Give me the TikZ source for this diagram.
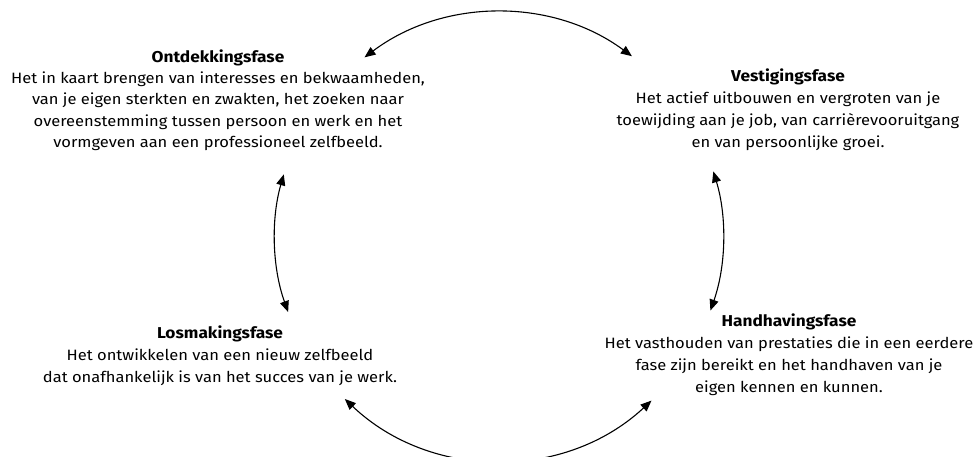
\documentclass[tikz,border=0pt]{standalone}
\usepackage{fontspec}
\setmainfont{Fira Sans}[FakeStretch=1.1]
\usetikzlibrary{arrows.meta}
\begin{document}
\begin{tikzpicture}[x=1pt,y=1pt,
  title/.style={anchor=base, inner sep=0pt, font=\fontsize{15.7}{20}\selectfont\bfseries},
  body/.style={align=center, anchor=north, inner sep=0pt, font=\fontsize{15}{22}\selectfont},
  cyc/.style={line width=1.1pt, {Triangle[length=11pt,width=9pt]}-{Triangle[length=11pt,width=9pt]}}]
\useasboundingbox (0,0) rectangle (975,456);
\coordinate (c) at (499,219.5);
% Ontdekkingsfase
\node[title] (ontT) at (218,393.5) {Ontdekkingsfase};
\node[body, font=\fontsize{15}{21.3}\selectfont] (ontB) at (218,384.5) {\rule{0pt}{12pt}Het in kaart brengen van interesses en bekwaamheden,\\van je eigen sterkten en zwakten, het zoeken naar\\overeenstemming tussen persoon en werk en het\\vormgeven aan een professioneel zelfbeeld.};
% Vestigingsfase
\node[title] (vesT) at (788,374.5) {Vestigingsfase};
\node[body] (vesB) at (788,364.5) {\rule{0pt}{12pt}Het actief uitbouwen en vergroten van je\\toewijding aan je job, van carrièrevooruitgang\\en van persoonlijke groei.};
% Handhavingsfase
\node[title] (hanT) at (789,130) {Handhavingsfase};
\node[body] (hanB) at (789,119.5) {\rule{0pt}{12pt}Het vasthouden van prestaties die in een eerdere\\fase zijn bereikt en het handhaven van je\\eigen kennen en kunnen.};
% Losmakingsfase
\node[title] (losT) at (220,117.3) {Losmakingsfase};
\node[body] (losB) at (220,107.3) {\rule{0pt}{12pt}Het ontwikkelen van een nieuw zelfbeeld\\dat onafhankelijk is van het succes van je werk.};
% cycle arrows
\coordinate (t1) at ([shift={(126.9:224)}]c);
\coordinate (l1) at ([shift={(163.9:224)}]c);
\coordinate (r1) at ([shift={(16.9:224)}]c);
\coordinate (b1) at ([shift={(226.5:224)}]c);
\draw[cyc] (t1) arc[start angle=126.9, end angle=53.6, radius=224];
\draw[cyc] (l1) arc[start angle=163.9, end angle=199.7, radius=224];
\draw[cyc] (r1) arc[start angle=16.9, end angle=-19.3, radius=224];
\draw[cyc] (b1) arc[start angle=226.5, end angle=312.9, radius=224];
\end{tikzpicture}
\end{document}
